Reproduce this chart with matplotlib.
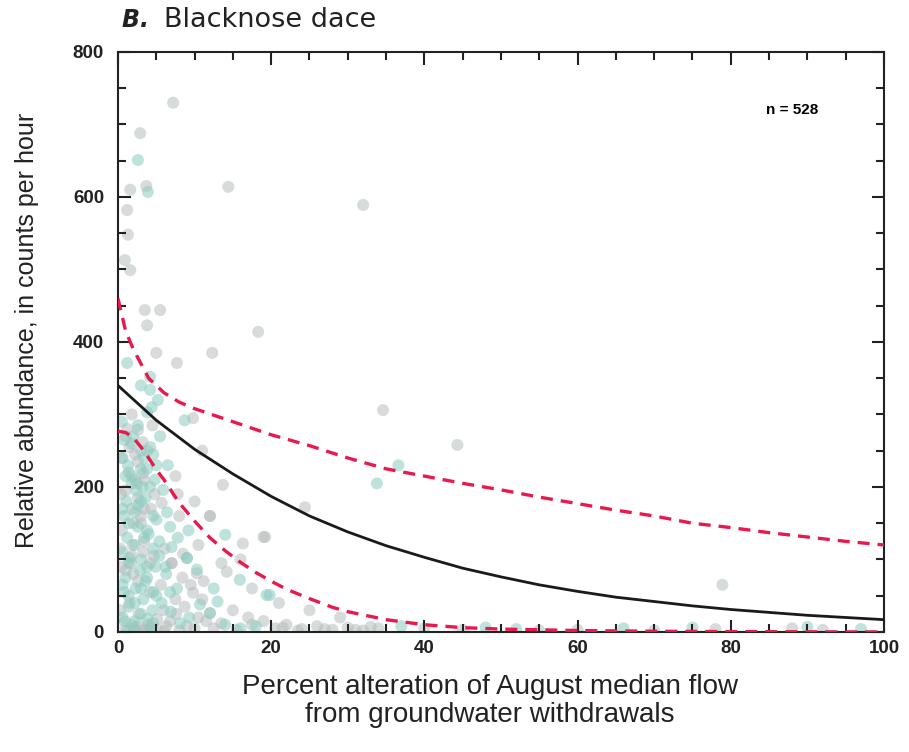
import matplotlib
matplotlib.use("Agg")
import matplotlib.pyplot as plt
from matplotlib.ticker import MultipleLocator

# ---- fitted curves ----
fit_x = [0, 5, 10, 15, 20, 25, 30, 35, 40, 45, 50, 55, 60, 65, 70, 75, 80, 85, 90, 95, 100]
fit_y = [340, 292, 252, 218, 187, 160, 138, 119, 103, 88, 76, 65, 56, 48, 42, 36, 31, 27, 23, 20, 17]

upper_x = [0, 1, 2, 4, 6, 8, 10, 15, 20, 25, 30, 35, 40, 45, 50, 55, 60, 65, 70, 75, 80, 85, 90, 95, 100]
upper_y = [460, 415, 390, 350, 330, 317, 308, 290, 272, 257, 240, 225, 215, 205, 196, 186, 177, 168, 160, 150, 144, 137, 131, 125, 120]

lower_x = [0, 1, 2, 3, 4, 5, 6, 8, 10, 12, 14, 16, 18, 20, 22, 25, 28, 30, 35, 40, 45, 50, 60, 70, 80, 100]
lower_y = [277, 275, 268, 255, 240, 224, 210, 178, 153, 130, 112, 96, 82, 70, 59, 46, 34, 28, 17, 10, 6, 4, 2, 1, 0.5, 0]

# ---- observations (approximate positions of visible points) ----
teal_x = [0.5, 2.0, 3.8, 5.5, 0.8, 1.3, 3.0, 4.8, 1.0, 6.5, 1.1, 2.4, 3.6, 5.0, 6.4, 0.8, 3.2,
          1.2, 2.6, 4.0, 5.4, 6.8, 7.8, 1.5, 9.2, 1.0, 2.3, 3.6, 4.9, 6.3, 7.7, 9.0, 10.3, 0.8,
          5.0, 0.9, 2.1, 3.3, 4.5, 5.7, 6.9, 8.1, 9.3, 10.7, 12.0, 14.0, 16.0, 18.0, 1.2, 4.0,
          7.0, 14.0, 9.0, 19.4, 4.2, 4.2, 15.9, 36.6, 33.8, 19.8, 37, 48, 52, 66, 75, 90, 97,
          2.6, 3.9, 12.5, 6.8, 13.0, 2.9, 5.9, 1.2, 8.7,
          0.6, 1.4, 2.2, 3.0, 3.8, 4.6, 0.6, 1.4, 2.2, 3.0, 3.8, 4.6, 0.6, 1.4, 2.2, 3.0,
          3.8, 4.6, 0.6, 1.4, 2.2, 3.0, 3.8, 4.6, 0.6, 1.4, 2.2, 3.0, 3.8, 4.6, 5.4, 6.2,
          1.8, 2.6, 3.4, 4.2, 5.0, 1.8, 2.6, 3.4, 4.2, 4.4, 5.2, 3.0]
teal_y = [290, 270, 303, 270, 265, 230, 225, 210, 215, 230, 180, 195, 185, 155, 165, 160, 200,
          130, 145, 135, 125, 145, 130, 102, 140, 75, 60, 70, 90, 80, 60, 102, 86, 55,
          50, 15, 5, 45, 30, 40, 28, 12, 20, 38, 26, 10, 5, 8, 2, 2,
          117, 134, 102, 51, 352, 334, 72, 230, 205, 51, 8, 6, 4, 5, 6, 7, 4,
          651, 607, 60, 55, 42, 85, 196, 371, 292,
          20, 35, 15, 25, 18, 12, 65, 50, 40, 60, 75, 55, 110, 95, 120, 100,
          90, 115, 170, 150, 165, 180, 140, 160, 240, 220, 210, 250, 225, 245, 105, 90,
          260, 285, 240, 255, 230, 205, 175, 130, 200, 310, 320, 340]

gray_x = [1.2, 2.6, 3.2, 4.5, 1.5, 2.2, 3.3, 0.5, 2.5, 7.5, 3.8, 0.4, 1.8, 3.0, 4.3, 5.7, 2.0,
          7.8, 4.8, 0.5, 1.9, 3.3, 4.7, 6.1, 7.0, 8.5, 3.0, 0.3, 0.4, 1.7, 4.2, 5.6, 7.0, 8.4,
          9.8, 11.2, 2.0, 0.3, 1.5, 2.7, 3.9, 5.1, 6.3, 7.5, 8.7, 10.0, 11.5, 15.0, 17.0, 19.0,
          20.5, 22, 24, 26, 28, 30, 32, 34, 2.5, 6, 8, 13.7, 16.3, 19, 14.2, 12.3, 7.7, 5.0,
          10.3, 12, 18.3, 9.8, 11, 10, 12, 7.2, 2.9, 1.6, 1.2, 3.7, 14.4, 32, 1.3, 0.9, 1.6,
          3.5, 5.5, 3.8, 34.6, 44.3, 24.4, 78.9, 19.2, 40, 45, 55, 60, 70, 78, 88, 92, 12.0,
          16.0, 21.0, 25.0, 29.0, 8.0, 10.5, 13.5, 17.5,
          1.0, 1.8, 2.6, 3.4, 4.2, 5.0, 1.0, 1.8, 2.6, 3.4, 4.2, 1.0, 1.8, 2.6, 3.4, 1.0,
          1.8, 2.6, 3.4, 6.0, 6.8, 7.6, 9.0, 10.5, 12.5, 13.5, 15.5, 17.5, 21.5, 23.5, 27.0,
          31.0, 33.0, 9.5, 11.0]
gray_y = [280, 279, 262, 285, 255, 245, 219, 240, 205, 215, 250, 190, 170, 160, 170, 178, 150,
          190, 190, 140, 120, 110, 105, 115, 95, 108, 150, 115, 90, 95, 55, 65, 95, 75,
          54, 70, 80, 30, 40, 25, 10, 18, 8, 45, 35, 5, 15, 30, 20, 15,
          5, 10, 4, 8, 3, 6, 2, 5, 1, 1, 2, 203, 122, 131, 83, 385, 371, 385,
          81, 26, 414, 295, 250, 180, 160, 730, 688, 610, 582, 615, 614, 589, 548, 513, 499,
          444, 444, 423, 306, 258, 172, 65, 131, 5, 3, 2, 3, 2, 4, 5, 3, 160,
          100, 40, 30, 20, 160, 120, 95, 60,
          5, 10, 8, 3, 6, 4, 85, 105, 70, 125, 95, 195, 215, 185, 170, 270,
          300, 235, 210, 30, 15, 25, 8, 20, 5, 12, 3, 10, 6, 2, 4,
          3, 7, 65, 45]

cond = ["Liberation Sans", "DejaVu Sans"]

fig = plt.figure(figsize=(9.09, 7.52), dpi=100)
ax = fig.add_axes([0.1298, 0.1596, 0.8427, 0.7713])

ax.scatter(gray_x, gray_y, s=75, color="#b3b8b8", alpha=0.5, edgecolors="none", zorder=1)
ax.scatter(teal_x, teal_y, s=75, color="#8ccbc0", alpha=0.55, edgecolors="none", zorder=1)

ax.plot(upper_x, upper_y, color="#e8194c", lw=2.4, ls=(0, (3.6, 2.4)), zorder=3)
ax.plot(lower_x, lower_y, color="#e8194c", lw=2.4, ls=(0, (3.6, 2.4)), zorder=3)
ax.plot(fit_x, fit_y, color="#1a1a1a", lw=2.0, zorder=4)

ax.set_xlim(0, 100)
ax.set_ylim(0, 800)
ax.xaxis.set_major_locator(MultipleLocator(20))
ax.xaxis.set_minor_locator(MultipleLocator(5))
ax.yaxis.set_major_locator(MultipleLocator(200))
ax.yaxis.set_minor_locator(MultipleLocator(50))
ax.tick_params(which="both", direction="in", top=True, right=True, width=1.5, colors="#222222")
ax.tick_params(which="major", length=9, labelsize=13.5, pad=6)
ax.tick_params(axis="y", which="major", pad=10)
ax.tick_params(which="minor", length=6)
for sp in ax.spines.values():
    sp.set_linewidth(1.5)
    sp.set_color("#222222")

for lab in ax.get_xticklabels() + ax.get_yticklabels():
    lab.set_family(cond)
    lab.set_fontweight("bold")

ax.set_ylabel("Relative abundance, in counts per hour", family=cond, fontsize=18,
              color="#222222")
ax.yaxis.set_label_coords(-0.103, 0.52)
ax.set_xlabel("Percent alteration of August median flow\nfrom groundwater withdrawals",
              family=cond, fontsize=20, color="#222222", linespacing=1.1)
ax.xaxis.set_label_coords(0.485, -0.073)
ax.xaxis.label.set_va("top")

ax.text(0.88, 0.9, "n = 528", transform=ax.transAxes, family=cond,
        fontsize=11, fontweight="bold", ha="center", va="center")

fig.text(0.133, 0.973, r"$\bfit{B.}$", fontsize=17, ha="left", va="center", color="#222222")
fig.text(0.180, 0.973, "Blacknose dace", fontsize=19.5, ha="left", va="center",
         color="#222222")

fig.savefig("out.png", dpi=100)
